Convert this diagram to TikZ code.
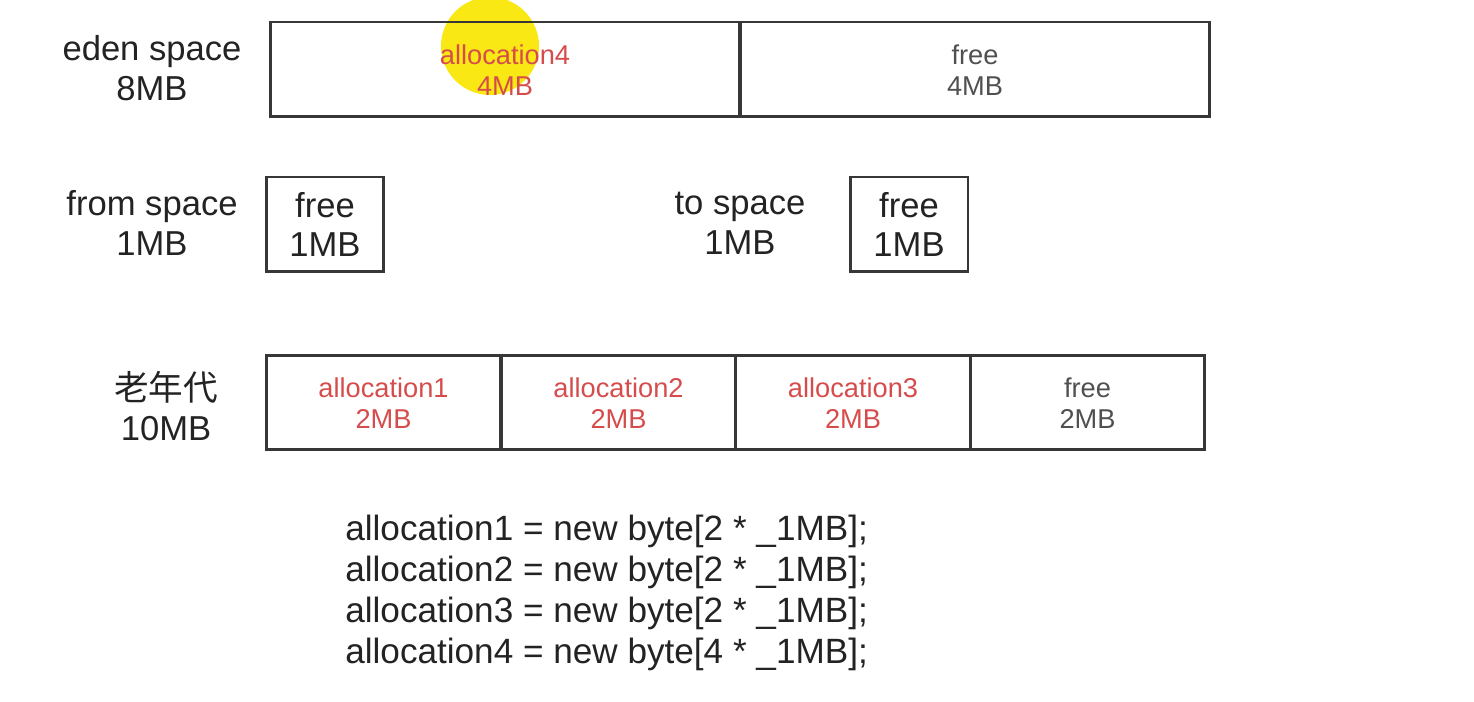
\documentclass[tikz,border=0pt]{standalone}
\usepackage{fontspec}
\setmainfont{Liberation Sans}
\newfontfamily\cjkfont{Noto Sans CJK SC}
\definecolor{boxline}{RGB}{55,55,55}
\definecolor{alloctext}{RGB}{214,76,76}
\definecolor{freetext}{RGB}{80,80,80}
\definecolor{labeltext}{RGB}{35,35,35}
\definecolor{marker}{RGB}{250,232,20}
\begin{document}
\begin{tikzpicture}
  [x=0.02cm,y=-0.02cm,
   every node/.style={inner sep=0pt,align=center},
   membox/.style={draw=boxline,line width=1.7pt,minimum height=1.9cm},
   bigcell/.style={membox,minimum width=9.4cm,font=\fontsize{15.5pt}{18pt}\selectfont},
   oldcell/.style={membox,minimum width=4.7cm,font=\fontsize{15.5pt}{18pt}\selectfont},
   smallcell/.style={membox,minimum width=2.36cm,text=labeltext,font=\fontsize{19.7pt}{22.7pt}\selectfont},
   spacelabel/.style={text=labeltext,font=\fontsize{19.7pt}{22.7pt}\selectfont}]
  \useasboundingbox (0,0) rectangle (1474,702);
  \fill[marker] (490,46) circle [radius=0.98cm];

  % eden space
  \node[spacelabel] (edenlabel) at (152,68) {eden space\\8MB};
  \node[bigcell,text=alloctext] (eden1) at (505,69.5) {\\[-6pt]allocation4\\4MB};
  \node[bigcell,text=freetext] (eden2) at (975,69.5) {\\[-6pt]free\\4MB};

  % survivor spaces
  \node[spacelabel] (fromlabel) at (152,223) {from space\\1MB};
  \node[smallcell] (from) at (325,224.5) {free\\1MB};
  \node[spacelabel] (tolabel) at (740,223) {to space\\1MB};
  \node[smallcell] (to) at (909,224.5) {free\\1MB};

  % old generation
  \node[spacelabel] (oldlabel) at (166,406) {{\cjkfont 老年代}\\10MB};
  \node[oldcell,text=alloctext] (old1) at (383.5,402.5) {\\[-6pt]allocation1\\2MB};
  \node[oldcell,text=alloctext] (old2) at (618.5,402.5) {\\[-6pt]allocation2\\2MB};
  \node[oldcell,text=alloctext] (old3) at (853,402.5) {\\[-6pt]allocation3\\2MB};
  \node[oldcell,text=freetext] (old4) at (1087.5,402.5) {\\[-6pt]free\\2MB};

  % code
  \node[spacelabel,anchor=west,align=left,font=\fontsize{20pt}{23.3pt}\selectfont] (code) at (345,593)
    {allocation1 = new byte[2 * \_1MB];\\
     allocation2 = new byte[2 * \_1MB];\\
     allocation3 = new byte[2 * \_1MB];\\
     allocation4 = new byte[4 * \_1MB];};
\end{tikzpicture}
\end{document}
